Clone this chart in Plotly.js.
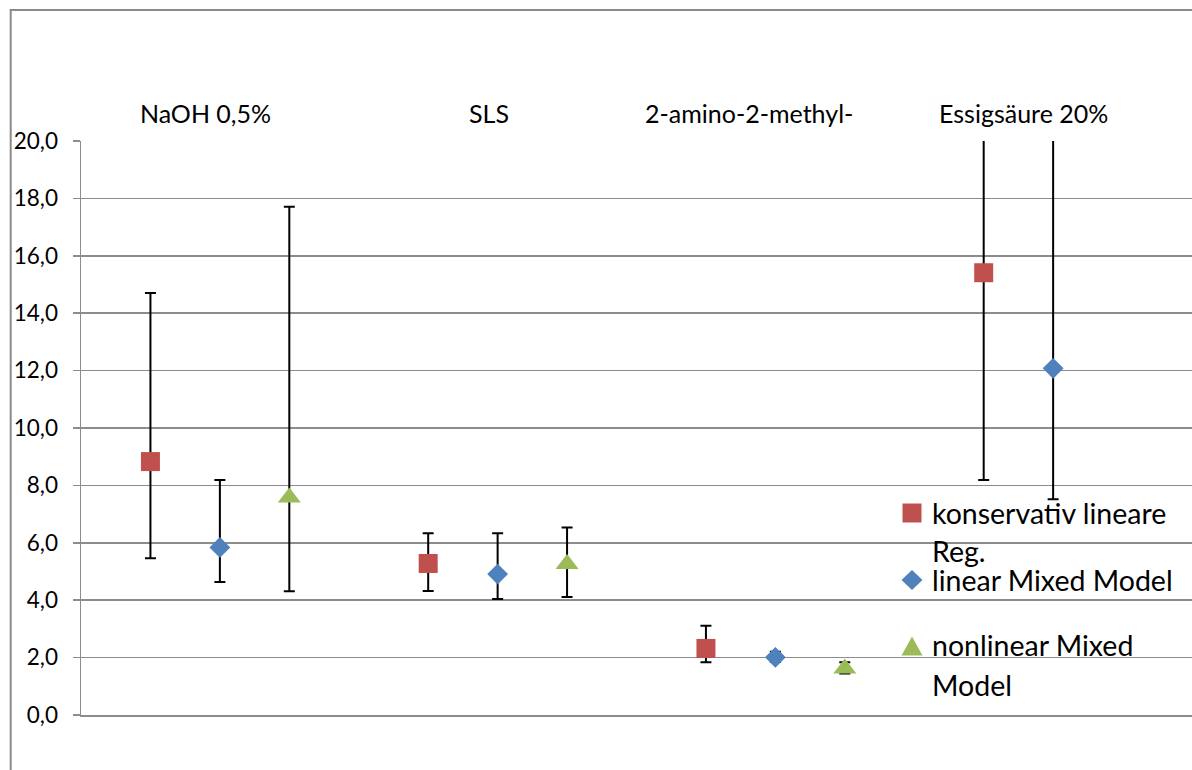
<!DOCTYPE html>
<html>
<head>
<meta charset="utf-8">
<script src="https://cdn.plot.ly/plotly-3.0.1.min.js"></script>
<style>
  html, body { margin: 0; padding: 0; background: #ffffff; }
  #chart { width: 1192px; height: 770px; }
</style>
</head>
<body>
<div id="chart"></div>
<script>
// Categories (treatments)
const categories = ['NaOH 0,5%', 'SLS', '2-amino-2-methyl-', 'Essigsäure 20%'];

// Series names
const seriesNames = ['konservativ lineare Reg.', 'linear Mixed Model', 'nonlinear Mixed Model'];

// konservativ lineare Regression: estimate with upper / lower bound
const konsValue = [8.83, 5.28, 2.32, 15.41];
const konsUpper = [14.70, 6.33, 3.11, 24.0];
const konsLower = [5.46, 4.32, 1.84, 8.19];

// linear Mixed Model
const linValue = [5.84, 4.91, 2.01, 12.08];
const linUpper = [8.19, 6.33, 2.20, 24.0];
const linLower = [4.63, 4.04, 1.85, 7.52];

// nonlinear Mixed Model (no estimate for Essigsäure)
const nonlinValue = [7.58, 5.26, 1.62, null];
const nonlinUpper = [17.71, 6.53, 1.84, null];
const nonlinLower = [4.31, 4.11, 1.45, null];

// Y axis ticks
const yTicks = [0, 2, 4, 6, 8, 10, 12, 14, 16, 18, 20];

// ---- styling ----
const FONT = 'Lato, "Open Sans", sans-serif';
const GRID = '#8c8c8c';
const colors = ['#C0504D', '#4F81BD', '#9BBB59'];
const symbols = ['square', 'diamond', 'triangle-up'];
const sizes = [19, 16, 20];
const groupOffset = [-0.25, 0, 0.25];

const W = 1192, H = 770;
const M = { l: 81, r: 0, t: 141, b: 55 };
const plotW = W - M.l - M.r, plotH = H - M.t - M.b;
const px = x => (x - M.l) / plotW;          // page x -> paper x
const py = y => (H - M.b - y) / plotH;       // page y -> paper y

function makeTrace(k, vals, up, lo) {
  const xs = categories.map((c, i) => i + 1 + groupOffset[k]);
  return {
    type: 'scatter',
    mode: 'markers',
    name: seriesNames[k],
    x: xs,
    y: vals,
    marker: { symbol: symbols[k], size: sizes[k], color: colors[k], line: { width: 0 } },
    error_y: {
      type: 'data',
      symmetric: false,
      array: vals.map((v, i) => v == null ? null : up[i] - v),
      arrayminus: vals.map((v, i) => v == null ? null : v - lo[i]),
      color: '#000000',
      thickness: 2,
      width: 5.5
    },
    showlegend: false,
    hoverinfo: 'x+y'
  };
}

const data = [
  makeTrace(0, konsValue, konsUpper, konsLower),
  makeTrace(1, linValue, linUpper, linLower),
  makeTrace(2, nonlinValue, nonlinUpper, nonlinLower)
];

// category captions above the plot area
const captionShift = [-14, -9, -26, -30];
const annotations = categories.map((c, i) => ({
  x: i + 1, xref: 'x', xshift: captionShift[i],
  y: py(113), yref: 'paper',
  text: c, showarrow: false,
  xanchor: 'center', yanchor: 'middle',
  font: { family: FONT, size: 25, color: '#000000' }
}));

// legend entries drawn next to the plot's right edge
const legendLines = [
  { text: 'konservativ lineare', y: 513 },
  { text: 'Reg.', y: 551 },
  { text: 'linear Mixed Model', y: 580 },
  { text: 'nonlinear Mixed', y: 645 },
  { text: 'Model', y: 685 }
];
legendLines.forEach(l => annotations.push({
  x: px(930), xref: 'paper', y: py(l.y), yref: 'paper',
  text: l.text, showarrow: false, xanchor: 'left', yanchor: 'middle',
  font: { family: FONT, size: 28.5, color: '#000000' }
}));

const lx = 912;
const shapes = [
  // outer chart frame (left and top edges)
  { type: 'path', xref: 'paper', yref: 'paper',
    path: `M ${px(10.7)} ${py(772)} L ${px(10.7)} ${py(10)} L ${px(1195)} ${py(10)}`,
    line: { color: '#8a8a8a', width: 2 } },
  // legend symbols
  { type: 'rect', xref: 'paper', yref: 'paper',
    x0: px(lx - 9.5), x1: px(lx + 9.5), y0: py(513 + 9.5), y1: py(513 - 9.5),
    fillcolor: colors[0], line: { width: 0 } },
  { type: 'path', xref: 'paper', yref: 'paper',
    path: `M ${px(lx - 10.5)} ${py(580)} L ${px(lx)} ${py(570)} L ${px(lx + 10.5)} ${py(580)} L ${px(lx)} ${py(590)} Z`,
    fillcolor: colors[1], line: { width: 0 } },
  { type: 'path', xref: 'paper', yref: 'paper',
    path: `M ${px(lx - 10.5)} ${py(655.5)} L ${px(lx)} ${py(636.5)} L ${px(lx + 10.5)} ${py(655.5)} Z`,
    fillcolor: colors[2], line: { width: 0 } }
];

const layout = {
  width: W, height: H,
  margin: M,
  paper_bgcolor: '#ffffff', plot_bgcolor: '#ffffff',
  separators: ',.',
  showlegend: false,
  font: { family: FONT, color: '#000000' },
  xaxis: {
    range: [0.5, 4.5], fixedrange: true,
    showgrid: false, zeroline: false,
    showticklabels: false, ticks: '',
    showline: true, linecolor: GRID, linewidth: 1.5
  },
  yaxis: {
    range: [0, 20], fixedrange: true,
    tickvals: yTicks, tickformat: '.1f',
    showgrid: true, gridcolor: GRID, gridwidth: 1.5,
    zeroline: false,
    showline: true, linecolor: GRID, linewidth: 1.5,
    ticks: 'outside', ticklen: 7, tickcolor: GRID, tickwidth: 1.5,
    ticklabelstandoff: 10,
    tickfont: { family: FONT, size: 22.5, color: '#000000' }
  },
  annotations: annotations,
  shapes: shapes
};

Plotly.newPlot('chart', data, layout, { displayModeBar: false, staticPlot: true });
</script>
</body>
</html>
